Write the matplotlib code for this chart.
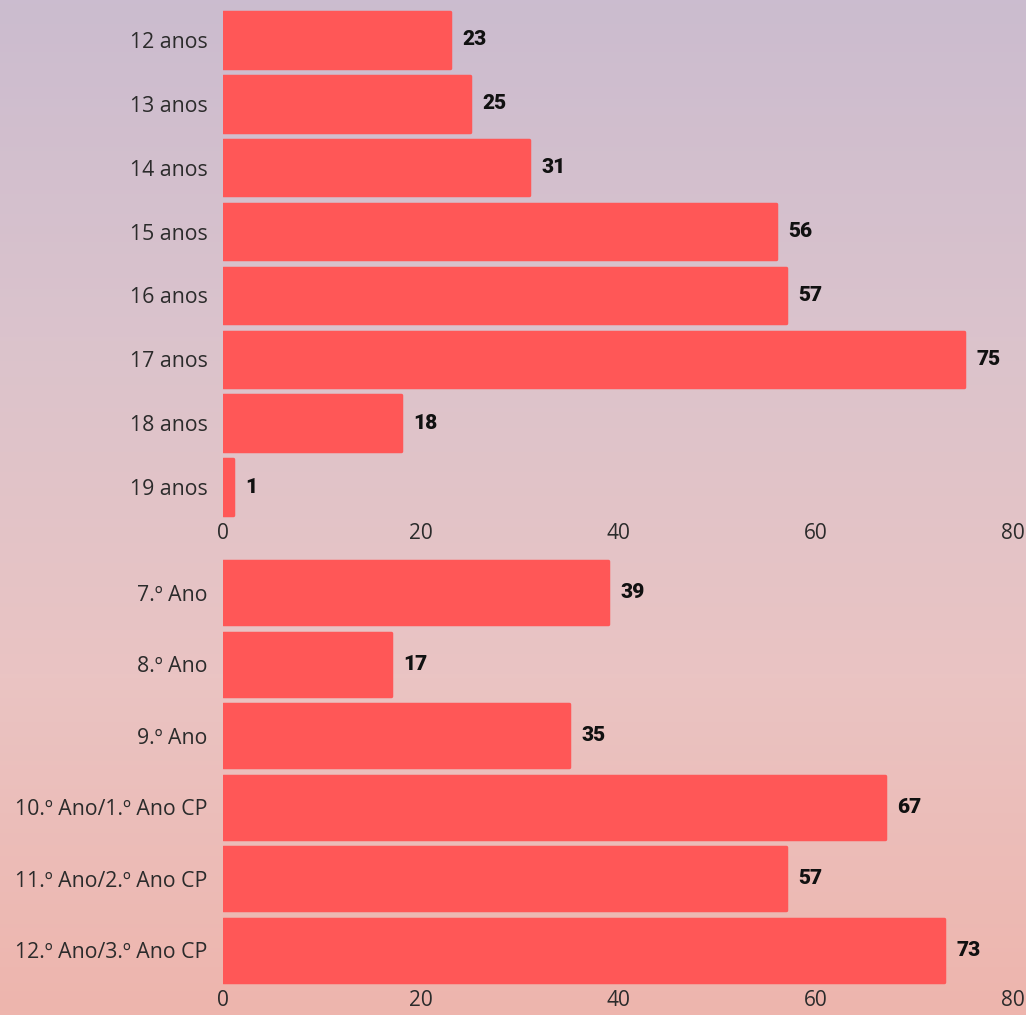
import numpy as np
import matplotlib
matplotlib.use('Agg')
from matplotlib import pyplot as plt
from matplotlib.colors import LinearSegmentedColormap

idades = ['12 anos', '13 anos', '14 anos', '15 anos', '16 anos', '17 anos', '18 anos', '19 anos']
idades_n = [23, 25, 31, 56, 57, 75, 18, 1]

anos = ['7.º Ano', '8.º Ano', '9.º Ano', '10.º Ano/1.º Ano CP', '11.º Ano/2.º Ano CP', '12.º Ano/3.º Ano CP']
anos_n = [39, 17, 35, 67, 57, 73]

ticks = [0, 20, 40, 60, 80]

cor_barra = '#FF5757'
cor_texto = '#2b2b2b'

W, H = 1026, 1015
fig = plt.figure(figsize=(W / 100, H / 100), dpi=100)

# fundo em degradê (lilás em cima, salmão em baixo)
bg = fig.add_axes([0, 0, 1, 1], zorder=-10)
cmap = LinearSegmentedColormap.from_list('fundo', ['#CBBCCF', '#DBC3CC', '#EAC4C3', '#EEB5AD'])
grad = np.linspace(0, 1, 256).reshape(-1, 1)
bg.imshow(grad, aspect='auto', cmap=cmap, extent=[0, 1, 0, 1], origin='upper')
bg.axis('off')


def painel(rect, cats, vals, altura):
    ax = fig.add_axes(rect)
    y = np.arange(len(cats))
    # borda da mesma cor com junção redonda -> cantos levemente arredondados
    barras = ax.barh(y, vals, height=altura, color=cor_barra, edgecolor=cor_barra, linewidth=2.5)
    for b in barras:
        b.set_joinstyle('round')
    ax.set_ylim(len(cats) - 0.5, -0.5)
    ax.set_xlim(0, 80)
    ax.set_yticks(y)
    ax.set_yticklabels(cats, fontsize=15.3, color=cor_texto, family=['Open Sans', 'DejaVu Sans'])
    ax.set_xticks(ticks)
    ax.set_xticklabels([str(t) for t in ticks], fontsize=15, color=cor_texto,
                       family=['Open Sans', 'DejaVu Sans'])
    ax.tick_params(axis='x', length=0, pad=3)
    ax.tick_params(axis='y', length=0, pad=11)
    for s in ax.spines.values():
        s.set_visible(False)
    ax.patch.set_alpha(0)
    for yi, v in zip(y, vals):
        ax.annotate(str(v), (v, yi), xytext=(9, 0), textcoords='offset points',
                    va='center', ha='left', fontsize=15, fontweight='heavy', color='#111111',
                    family=['Roboto', 'DejaVu Sans'])
    return ax


def px(x0, y0, x1, y1):
    return [x0 / W, 1 - y1 / H, (x1 - x0) / W, (y1 - y0) / H]


painel(px(223, 8, 1013, 519), idades, idades_n, 0.87)
painel(px(223, 557, 1013, 986), anos, anos_n, 0.88)

fig.savefig('out.png', dpi=100)
